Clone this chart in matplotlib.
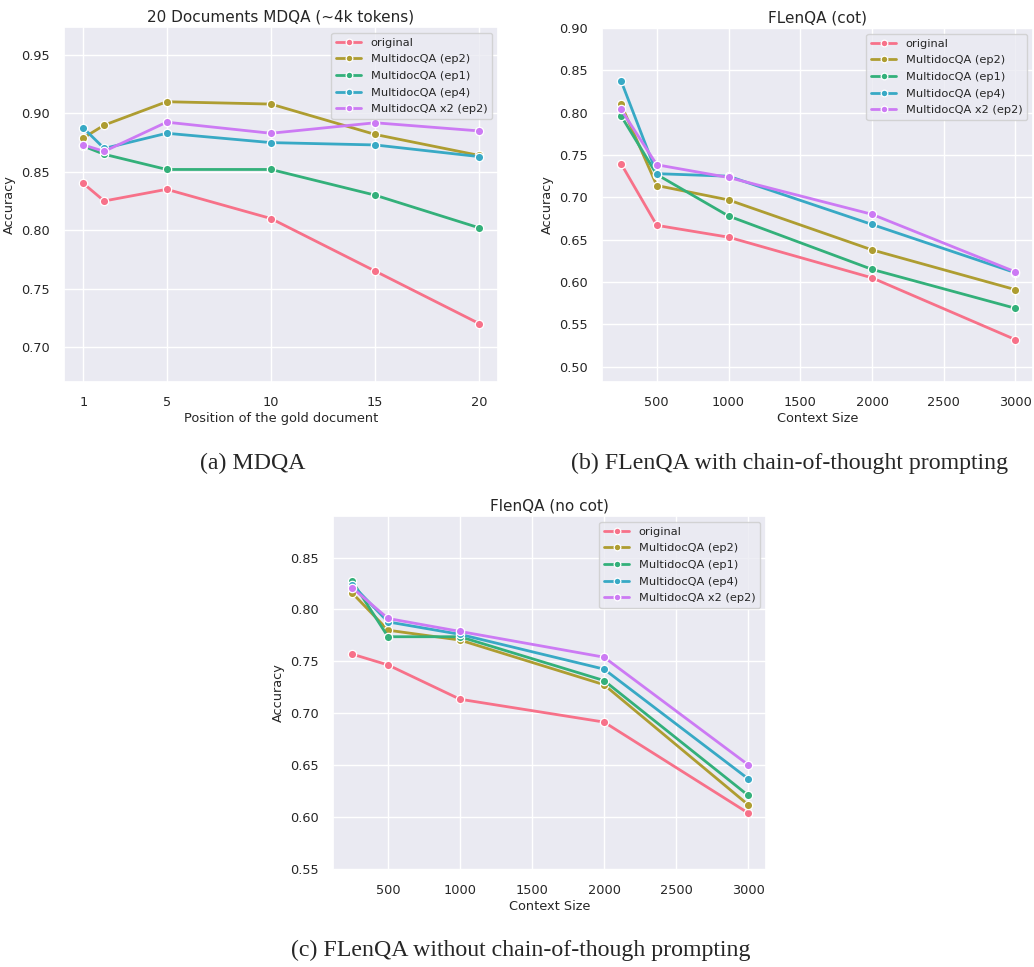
import matplotlib
matplotlib.use("Agg")
import matplotlib.pyplot as plt
import seaborn as sns

sns.set_theme(style="darkgrid")
plt.rcParams['font.family'] = ['DejaVu Sans']

series_names = ["original", "MultidocQA (ep2)", "MultidocQA (ep1)",
                "MultidocQA (ep4)", "MultidocQA x2 (ep2)"]

# Panel (a): MDQA
mdqa_x = [1, 2, 5, 10, 15, 20]
mdqa_original = [0.840, 0.825, 0.835, 0.810, 0.765, 0.720]
mdqa_ep2 = [0.879, 0.890, 0.910, 0.908, 0.882, 0.864]
mdqa_ep1 = [0.872, 0.865, 0.852, 0.852, 0.830, 0.802]
mdqa_ep4 = [0.8875, 0.870, 0.883, 0.875, 0.873, 0.863]
mdqa_x2 = [0.873, 0.8675, 0.8925, 0.883, 0.892, 0.885]
mdqa_xticks = [1, 5, 10, 15, 20]

# Panel (b): FLenQA (cot)
ctx_x = [250, 500, 1000, 2000, 3000]
cot_original = [0.740, 0.667, 0.653, 0.605, 0.532]
cot_ep2 = [0.810, 0.714, 0.697, 0.638, 0.591]
cot_ep1 = [0.7965, 0.727, 0.678, 0.615, 0.569]
cot_ep4 = [0.838, 0.728, 0.725, 0.668, 0.611]
cot_x2 = [0.804, 0.7385, 0.7235, 0.680, 0.612]

# Panel (c): FLenQA (no cot)
nocot_original = [0.757, 0.7465, 0.7135, 0.6915, 0.604]
nocot_ep2 = [0.816, 0.780, 0.7705, 0.7275, 0.612]
nocot_ep1 = [0.8275, 0.7737, 0.7737, 0.7315, 0.621]
nocot_ep4 = [0.824, 0.788, 0.776, 0.7425, 0.637]
nocot_x2 = [0.821, 0.7913, 0.7788, 0.754, 0.6505]

colors = sns.color_palette("husl", 5)

fig = plt.figure(figsize=(10.34, 9.67), dpi=100)
W, H = 1034, 967

def add_ax(l, t, r, b):
    return fig.add_axes([l / W, 1 - b / H, (r - l) / W, (b - t) / H])

ax_a = add_ax(64, 27, 498, 382)
ax_b = add_ax(602, 28, 1033, 382)
ax_c = add_ax(333, 516, 766, 870)

def draw(ax, x, ys, title, xlabel):
    for y, name, c in zip(ys, series_names, colors):
        ax.plot(x, y, color=c, lw=2, marker='o', markersize=6,
                markeredgecolor='white', markeredgewidth=0.9, label=name)
    ax.set_title(title, fontsize=11, pad=4)
    ax.set_xlabel(xlabel, fontsize=9.3, labelpad=2)
    ax.set_ylabel("Accuracy", fontsize=9.3, labelpad=4)
    ax.tick_params(labelsize=9.3, pad=4)
    ax.legend(loc='upper right', fontsize=8.2, frameon=True,
              handlelength=2.2, borderpad=0.45, labelspacing=0.58,
              markerscale=0.8)

draw(ax_a, mdqa_x, [mdqa_original, mdqa_ep2, mdqa_ep1, mdqa_ep4, mdqa_x2],
     "20 Documents MDQA (~4k tokens)", "Position of the gold document")
ax_a.set_xticks(mdqa_xticks)
ax_a.set_ylim(0.67, 0.974)
ax_a.set_yticks([0.70, 0.75, 0.80, 0.85, 0.90, 0.95])
ax_a.set_xlim(0.07, 20.9)

draw(ax_b, ctx_x, [cot_original, cot_ep2, cot_ep1, cot_ep4, cot_x2],
     "FLenQA (cot)", "Context Size")
ax_b.set_ylim(0.482, 0.90)
ax_b.set_yticks([0.50, 0.55, 0.60, 0.65, 0.70, 0.75, 0.80, 0.85, 0.90])
ax_b.set_xticks([500, 1000, 1500, 2000, 2500, 3000])
ax_b.set_xlim(118, 3122)

draw(ax_c, ctx_x, [nocot_original, nocot_ep2, nocot_ep1, nocot_ep4, nocot_x2],
     "FlenQA (no cot)", "Context Size")
ax_c.set_ylim(0.549, 0.89)
ax_c.set_yticks([0.55, 0.60, 0.65, 0.70, 0.75, 0.80, 0.85])
ax_c.set_xticks([500, 1000, 1500, 2000, 2500, 3000])
ax_c.set_xlim(118, 3125)

cap_font = dict(family='Liberation Serif', fontsize=17.2, ha='center', va='center')
fig.text(253 / W, 1 - 463 / H, "(a) MDQA", **cap_font)
fig.text(790 / W, 1 - 463 / H, "(b) FLenQA with chain-of-thought prompting", **cap_font)
fig.text(521 / W, 1 - 950 / H, "(c) FLenQA without chain-of-though prompting", **cap_font)

fig.savefig("out.png", dpi=100, facecolor='white')
